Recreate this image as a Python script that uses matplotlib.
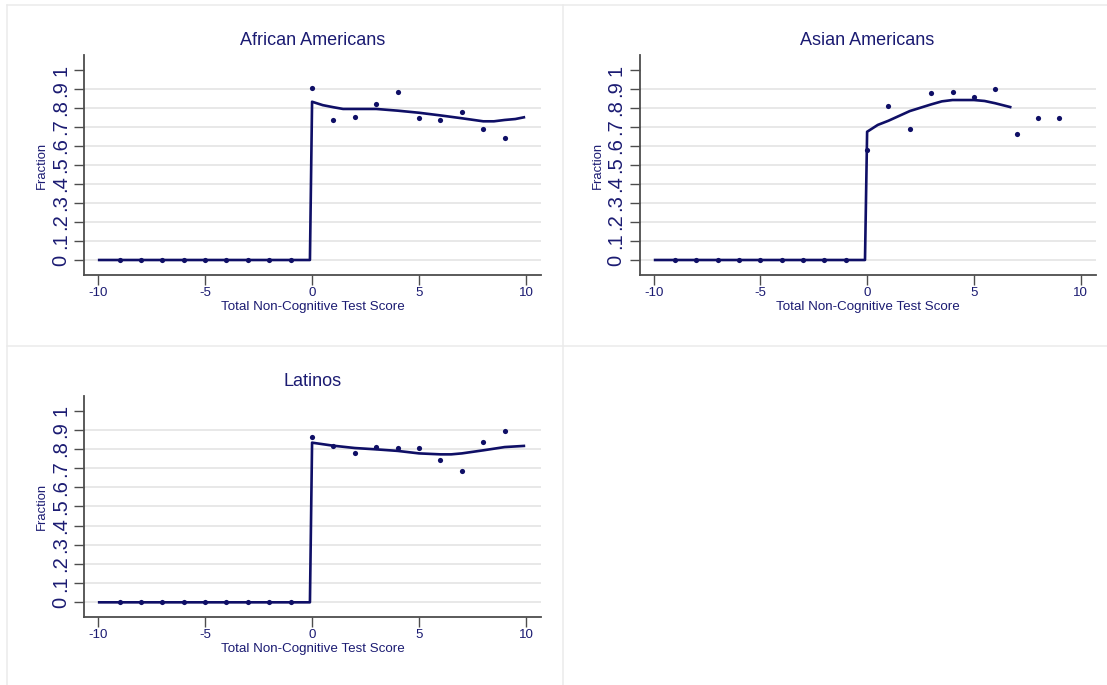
import matplotlib
matplotlib.use("Agg")
import matplotlib.pyplot as plt
from matplotlib.lines import Line2D
import numpy as np

plt.rcParams['font.family'] = ['Liberation Sans', 'DejaVu Sans']

NAVY = "#1b1b72"
LINE = "#0f0f66"
GRID = "#e6e6e6"
SPINE = "#4d4d4d"

# binned means
bins = np.arange(-9, 10)
aa_frac = [0, 0, 0, 0, 0, 0, 0, 0, 0,
           0.904, 0.735, 0.754, 0.819, 0.884, 0.749, 0.735, 0.781, 0.689, 0.644]
asian_frac = [0, 0, 0, 0, 0, 0, 0, 0, 0,
              0.581, 0.812, 0.689, 0.877, 0.884, 0.860, 0.898, 0.665, 0.749, 0.749]
lat_frac = [0, 0, 0, 0, 0, 0, 0, 0, 0,
            0.861, 0.816, 0.777, 0.810, 0.803, 0.803, 0.744, 0.687, 0.835, 0.892]

# fitted values on each side of the cutoff
aa_fit_x = [-9.95, -0.1, 0, 0.5, 1, 1.45, 2, 3, 4, 5, 6, 7, 8, 8.5, 9, 9.5, 9.9]
aa_fit_y = [0, 0, 0.833, 0.815, 0.804, 0.795, 0.795, 0.795, 0.786, 0.775,
            0.761, 0.746, 0.730, 0.730, 0.737, 0.742, 0.751]
asian_fit_x = [-9.93, -0.1, 0, 0.5, 1, 2, 3, 3.5, 4, 5, 5.5, 6, 6.7]
asian_fit_y = [0, 0, 0.675, 0.711, 0.733, 0.784, 0.819, 0.835, 0.842, 0.842,
               0.837, 0.825, 0.805]
lat_fit_x = [-9.95, -0.1, 0, 1, 2, 3, 4, 5, 6, 6.5, 7, 8, 9, 9.9]
lat_fit_y = [0, 0, 0.833, 0.817, 0.805, 0.798, 0.790, 0.777, 0.772, 0.772,
             0.777, 0.793, 0.810, 0.816]

yticks = np.arange(0, 1.01, 0.1)
ytick_labels = ["0", ".1", ".2", ".3", ".4", ".5", ".6", ".7", ".8", ".9", "1"]
xticks = [-10, -5, 0, 5, 10]

W, H = 1107, 685
fig = plt.figure(figsize=(W / 100, H / 100), dpi=100)


def px_axes(left, top, right, bottom):
    return fig.add_axes([left / W, (H - bottom) / H, (right - left) / W, (bottom - top) / H])


def draw_panel(ax, title, fx, fy, pts, ylim):
    for g in yticks[:-1]:
        ax.axhline(g, color=GRID, lw=1.3, zorder=0)
    ax.plot(fx, fy, color=LINE, lw=1.9, zorder=2)
    ax.scatter(bins, pts, s=14, color=LINE, zorder=3, linewidths=0)
    ax.set_xlim(-10.66, 10.7)
    ax.set_ylim(*ylim)
    ax.set_xticks(xticks)
    ax.set_xticklabels([str(t) for t in xticks])
    ax.set_yticks(yticks)
    ax.set_yticklabels(ytick_labels, rotation=90, va="center")
    ax.tick_params(axis="x", length=7, width=1, color=SPINE, labelsize=9.6,
                   labelcolor=NAVY, pad=2)
    ax.tick_params(axis="y", length=7, width=1, color=SPINE, labelsize=14.5,
                   labelcolor=NAVY, pad=3)
    for s in ["top", "right"]:
        ax.spines[s].set_visible(False)
    for s in ["left", "bottom"]:
        ax.spines[s].set_color(SPINE)
        ax.spines[s].set_linewidth(1.3)
    ax.set_facecolor("white")
    ax.set_title(title, color=NAVY, fontsize=13, pad=7)
    ax.set_xlabel("Total Non-Cognitive Test Score", color=NAVY, fontsize=9.6, labelpad=1)
    ax.set_ylabel("Fraction", color=NAVY, fontsize=9.4, labelpad=2)


# separators between the graph cells
def frame_line(x0, y0, x1, y1):
    fig.add_artist(Line2D([x0 / W, x1 / W], [(H - y0) / H, (H - y1) / H],
                          transform=fig.transFigure, color="#ebebeb", lw=1.1))


frame_line(7, 5, W, 5)
frame_line(7, 5, 7, H)
frame_line(563, 5, 563, H)
frame_line(7, 346, W, 346)

ax1 = px_axes(84, 55, 541, 275)
draw_panel(ax1, "African Americans", aa_fit_x, aa_fit_y, aa_frac, (-0.079, 1.079))

ax2 = px_axes(639.5, 55, 1095.6, 275)
draw_panel(ax2, "Asian Americans", asian_fit_x, asian_fit_y, asian_frac, (-0.079, 1.079))

ax3 = px_axes(84, 395.7, 541, 616.7)
draw_panel(ax3, "Latinos", lat_fit_x, lat_fit_y, lat_frac, (-0.075, 1.078))

fig.savefig("out.png", dpi=100)
